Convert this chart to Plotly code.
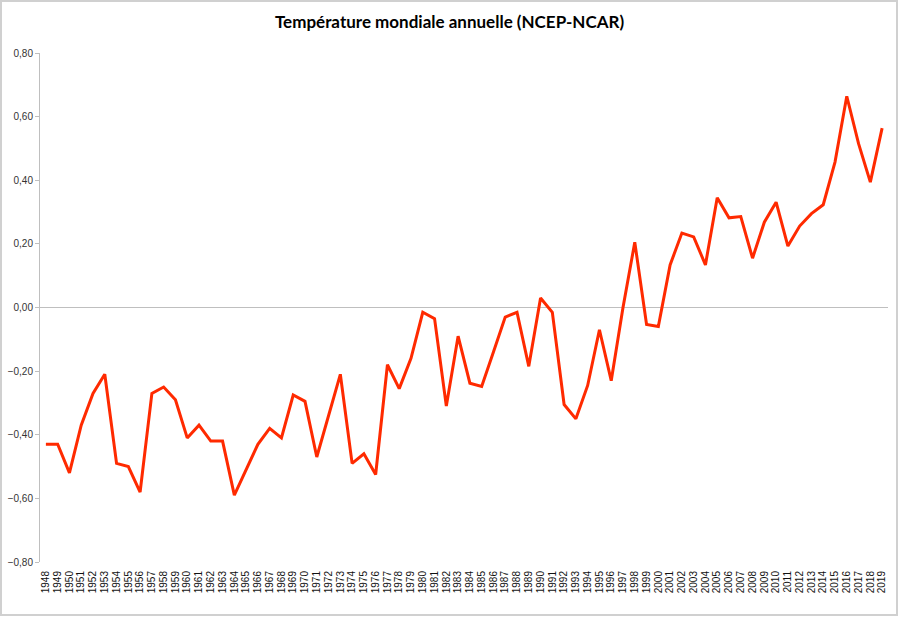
import plotly.graph_objects as go

# Annual global temperature anomaly (NCEP-NCAR)
years = list(range(1948, 2020))
anomalies = [
    -0.43, -0.43, -0.52, -0.37, -0.27, -0.21, -0.49, -0.50, -0.58, -0.27,
    -0.25, -0.29, -0.41, -0.37, -0.42, -0.42, -0.59, -0.51, -0.43, -0.38,
    -0.41, -0.275, -0.295, -0.47, -0.34, -0.21, -0.49, -0.46, -0.525, -0.18,
    -0.255, -0.16, -0.015, -0.035, -0.31, -0.09, -0.238, -0.248, -0.14, -0.03,
    -0.015, -0.185, 0.03, -0.015, -0.305, -0.35, -0.245, -0.07, -0.23, 0.00,
    0.205, -0.053, -0.06, 0.134, 0.234, 0.222, 0.134, 0.345, 0.282, 0.286,
    0.155, 0.268, 0.331, 0.193, 0.256, 0.295, 0.323, 0.457, 0.664, 0.515,
    0.394, 0.564,
]
title = "Température mondiale annuelle (NCEP-NCAR)"

W, H = 899, 617
L, R, T, B = 40, 11, 53, 55
pw, ph = W - L - R, H - T - B

fig = go.Figure()
fig.add_trace(go.Scatter(
    x=years, y=anomalies, mode="lines",
    line=dict(color="#ff2a00", width=3),
    hoverinfo="x+y",
))

fig.update_layout(
    width=W, height=H,
    margin=dict(l=L, r=R, t=T, b=B, autoexpand=False),
    paper_bgcolor="white", plot_bgcolor="white",
    separators=", ",
    showlegend=False,
    title=dict(
        text="<b>" + title + "</b>",
        x=0.5, xanchor="center", y=1 - 22 / H, yanchor="middle",
        font=dict(family="Lato, Open Sans, sans-serif", size=17, color="black"),
    ),
    font=dict(family="Liberation Sans, Arial, sans-serif", size=10, color="#222"),
    shapes=[dict(
        type="rect", xref="paper", yref="paper",
        x0=(1 - L) / pw, x1=(W - 2 - L) / pw,
        y0=-(H - 2 - (H - B)) / ph, y1=(H - B - 1) / ph,
        line=dict(color="#d0d0d0", width=2), layer="below",
    )],
)

fig.update_xaxes(
    range=[years[0] - 0.5, years[-1] + 0.5],
    tickmode="array", tickvals=years, ticktext=[str(y) for y in years],
    tickangle=-90, tickfont=dict(size=10, color="#111"),
    showgrid=False, showline=False, zeroline=False, ticks="",
    ticklabelstandoff=6,
)
fig.update_yaxes(
    range=[-0.8, 0.8], dtick=0.2, tick0=-0.8, tickformat=".2f",
    showgrid=False, showline=True, linecolor="#bfbfbf", linewidth=1,
    ticks="outside", ticklen=4, tickcolor="#bfbfbf",
    zeroline=True, zerolinecolor="#bfbfbf", zerolinewidth=1,
    tickfont=dict(size=10, color="#333"),
)

# drop the page's default body margin so the chart sits at the window's corner
fig.write_html("out.html", config={"displayModeBar": False},
               post_script="document.body.style.margin='0';")
